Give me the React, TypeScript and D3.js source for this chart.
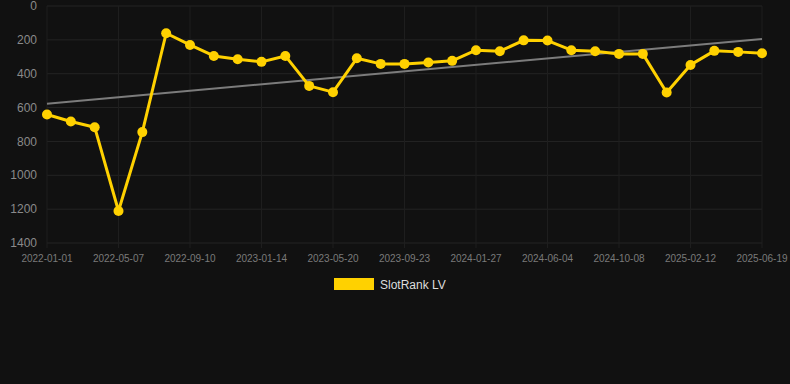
import React from "react";
import * as d3 from "d3";

const dates: string[] = [
  "2022-01-01", "2022-02-12", "2022-03-26", "2022-05-07", "2022-06-18", "2022-07-30",
  "2022-09-10", "2022-10-22", "2022-12-03", "2023-01-14", "2023-02-25", "2023-04-08",
  "2023-05-20", "2023-07-01", "2023-08-12", "2023-09-23", "2023-11-04", "2023-12-16",
  "2024-01-27", "2024-03-09", "2024-04-20", "2024-06-04", "2024-07-16", "2024-08-27",
  "2024-10-08", "2024-11-19", "2024-12-31", "2025-02-12", "2025-03-26", "2025-05-07",
  "2025-06-19",
];

const rankValues: number[] = [
  641, 682, 716, 1211, 745, 161, 230, 295, 315, 330, 295, 472, 509, 309, 342, 342,
  334, 324, 261, 267, 203, 204, 261, 267, 283, 283, 511, 348, 265, 271, 279,
];

const yTicks: number[] = [0, 200, 400, 600, 800, 1000, 1200, 1400];
const seriesName = "SlotRank LV";

const W = 790;
const H = 384;
const M = { left: 47, right: 28, top: 6, bottom: 141 };

export default function App() {
  const x = d3
    .scalePoint<string>()
    .domain(dates)
    .range([M.left, W - M.right]);
  const y = d3.scaleLinear().domain([0, 1400]).range([M.top, H - M.bottom]);

  const line = d3
    .line<number>()
    .x((_, i) => x(dates[i]) as number)
    .y((d) => y(d));

  // linear regression trend
  const n = rankValues.length;
  const xs = rankValues.map((_, i) => i);
  const mx = d3.mean(xs) as number;
  const my = d3.mean(rankValues) as number;
  let num = 0;
  let den = 0;
  xs.forEach((xi, i) => {
    num += (xi - mx) * (rankValues[i] - my);
    den += (xi - mx) * (xi - mx);
  });
  const slope = num / den;
  const intercept = my - slope * mx;
  const t0 = intercept;
  const t1 = intercept + slope * (n - 1);

  const labelDates = dates.filter((_, i) => i % 3 === 0);

  return (
    <svg
      width={W}
      height={H}
      style={{ position: "absolute", left: 0, top: 0, background: "#111111", display: "block" }}
      fontFamily="Arial, 'Liberation Sans', Helvetica, sans-serif"
    >
      <rect x={0} y={0} width={W} height={H} fill="#111111" />
      {/* grid */}
      <g>
        {yTicks.map((t) => (
          <line
            key={"gy" + t}
            x1={M.left}
            x2={W - M.right}
            y1={y(t)}
            y2={y(t)}
            stroke="#242424"
            strokeWidth={1}
          />
        ))}
        {labelDates.map((d) => (
          <line
            key={"gx" + d}
            x1={x(d)}
            x2={x(d)}
            y1={M.top}
            y2={H - M.bottom + 5}
            stroke="#1e1e1e"
            strokeWidth={1}
          />
        ))}
      </g>
      {/* y labels */}
      <g>
        {yTicks.map((t) => (
          <text
            key={"ty" + t}
            x={37}
            y={y(t)}
            dy="0.35em"
            textAnchor="end"
            fontSize={12}
            fill="#8a8a8a"
          >
            {t}
          </text>
        ))}
      </g>
      {/* x labels */}
      <g>
        {labelDates.map((d) => (
          <text
            key={"tx" + d}
            x={x(d)}
            y={262}
            textAnchor="middle"
            fontSize={10}
            fill="#7a7a7a"
          >
            {d}
          </text>
        ))}
      </g>
      {/* trend */}
      <line
        x1={x(dates[0])}
        x2={x(dates[n - 1])}
        y1={y(t0)}
        y2={y(t1)}
        stroke="#7c7c7c"
        strokeWidth={2}
      />
      {/* series */}
      <path d={line(rankValues) as string} fill="none" stroke="#FFD100" strokeWidth={3} strokeLinejoin="round" />
      {rankValues.map((v, i) => (
        <circle key={"p" + i} cx={x(dates[i])} cy={y(v)} r={5} fill="#FFD100" />
      ))}
      {/* legend */}
      <rect x={334} y={278} width={40} height={12} fill="#FFD100" />
      <text x={380} y={289} fontSize={12} fill="#dddddd">
        {seriesName}
      </text>
    </svg>
  );
}
